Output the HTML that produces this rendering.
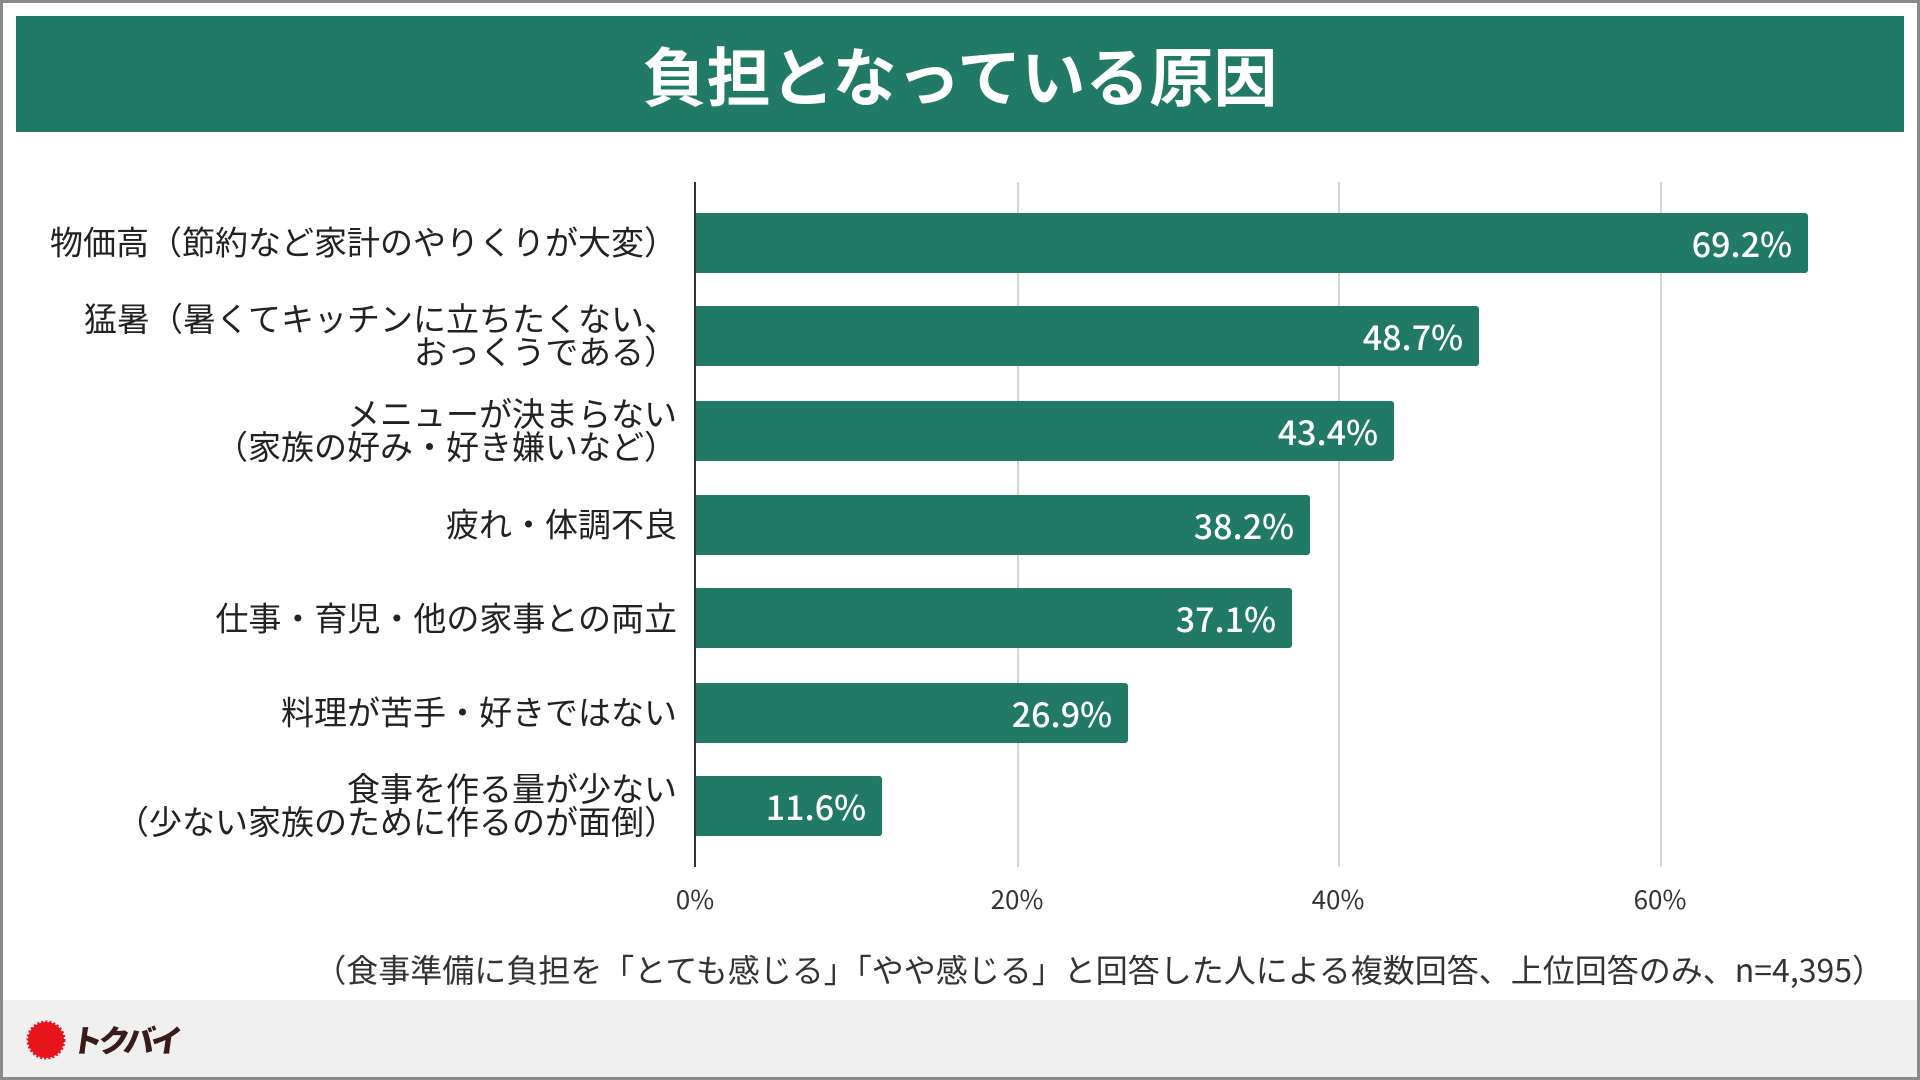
<!DOCTYPE html>
<html><head><meta charset="utf-8"><style>
*{margin:0;padding:0;box-sizing:border-box}
body{width:1920px;height:1080px;background:#fff;position:relative;overflow:hidden;font-family:"Liberation Sans","Noto Sans CJK JP",sans-serif}
.frame{position:absolute;inset:0;border:3px solid #8a8a8a;pointer-events:none;z-index:10}
.hdr{position:absolute;left:16px;top:16px;width:1888px;height:116px;background:#217a65;color:#fff;font-weight:bold;font-size:64px;text-align:center;line-height:116px;font-family:"Noto Sans CJK JP",sans-serif}
.grid{position:absolute;top:182px;height:685px;width:2px;background:#d4d4d4}
.axis{position:absolute;left:694px;top:182px;height:685px;width:2px;background:#333}
.bar{position:absolute;left:696px;height:60px;background:#217a65;border-radius:0 3px 3px 0;color:#fff;font-size:34px;font-weight:500;text-align:right;padding-right:16px;line-height:60px;font-family:"Noto Sans CJK JP",sans-serif}
.lab{position:absolute;right:1243px;color:#222;font-size:33px;text-align:right;line-height:33px;font-family:"Noto Sans CJK JP",sans-serif;white-space:nowrap;transform:translateY(-50%)}
.tick{position:absolute;top:880px;font-size:26px;color:#333;width:100px;margin-left:-50px;text-align:center;font-family:"Noto Sans CJK JP",sans-serif}
.note{position:absolute;right:36px;top:946px;font-size:32px;color:#333;font-family:"Noto Sans CJK JP",sans-serif;white-space:nowrap}
.foot{position:absolute;left:0;top:1000px;width:1920px;height:80px;background:#f0f0f0}
</style></head><body>
<div class="hdr">負担となっている原因</div>
<div class="grid" style="left:1017px"></div>
<div class="grid" style="left:1338px"></div>
<div class="grid" style="left:1660px"></div>
<div class="axis"></div>
<div class="bar" style="top:213px;width:1112px">69.2%</div>
<div class="bar" style="top:306px;width:783px">48.7%</div>
<div class="bar" style="top:401px;width:698px">43.4%</div>
<div class="bar" style="top:495px;width:614px">38.2%</div>
<div class="bar" style="top:588px;width:596px">37.1%</div>
<div class="bar" style="top:683px;width:432px">26.9%</div>
<div class="bar" style="top:776px;width:186px">11.6%</div>
<div class="lab" style="top:241px">物価高（節約など家計のやりくりが大変）</div>
<div class="lab" style="top:334px">猛暑（暑くてキッチンに立ちたくない、<br>おっくうである）</div>
<div class="lab" style="top:429px">メニューが決まらない<br>（家族の好み・好き嫌いなど）</div>
<div class="lab" style="top:523px">疲れ・体調不良</div>
<div class="lab" style="top:617px">仕事・育児・他の家事との両立</div>
<div class="lab" style="top:711px">料理が苦手・好きではない</div>
<div class="lab" style="top:804px">食事を作る量が少ない<br>（少ない家族のために作るのが面倒）</div>
<div class="tick" style="left:695px">0%</div>
<div class="tick" style="left:1017px">20%</div>
<div class="tick" style="left:1338px">40%</div>
<div class="tick" style="left:1660px">60%</div>
<div class="note">（食事準備に負担を「とても感じる」「やや感じる」と回答した人による複数回答、上位回答のみ、n=4,395）</div>
<div class="foot">
<svg style="position:absolute;left:26px;top:20px" width="40" height="40" viewBox="0 0 40 40"><circle cx="20" cy="20" r="18" fill="#e8141b" stroke="#e8141b" stroke-width="3" stroke-dasharray="2 2"/></svg>
<div style="position:absolute;left:72px;top:16px;font-size:31px;font-weight:900;transform:skewX(-8deg);color:#3a1a1a;font-family:'Noto Sans CJK JP',sans-serif;letter-spacing:-4px">トクバイ</div>
</div>
<div class="frame"></div>
</body></html>
